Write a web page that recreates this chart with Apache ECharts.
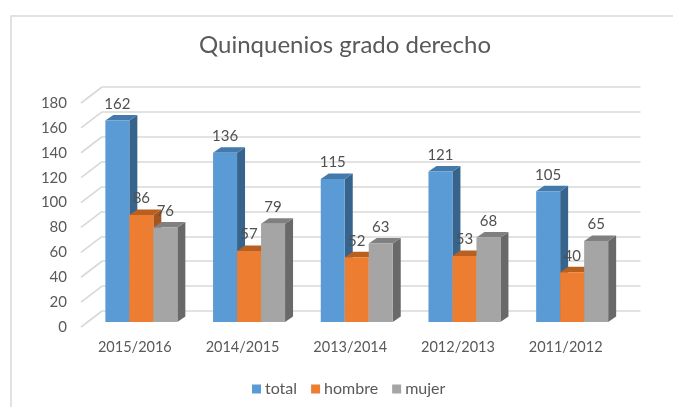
<!DOCTYPE html>
<html><head><meta charset="utf-8">
<style>html,body{margin:0;padding:0;background:#fff}#c{width:673px;height:407px}</style>
<script src="https://cdn.jsdelivr.net/npm/echarts@6/dist/echarts.min.js"></script>
</head><body><div id="c"></div>
<script>
const categories = ['2015/2016','2014/2015','2013/2014','2012/2013','2011/2012'];
const total = [162,136,115,121,105];
const hombre = [86,57,52,53,40];
const mujer = [76,79,63,68,65];
const seriesNames = ['total','hombre','mujer'];
const FONT = 'Lato, "Open Sans", sans-serif';
const chart = echarts.init(document.getElementById('c'), null, {renderer:'canvas'});

const faces = [
  {front:'#5b9bd5', top:'#437aab', side:'#37648c'},
  {front:'#ed7d31', top:'#b8601f', side:'#a5561f'},
  {front:'#a5a5a5', top:'#808080', side:'#696969'}
];
const BAR_W = 24, DX = 8, DY = 5.5, OFF_X = 6.5, OFF_Y = -5;

function barSeries(name, values, idx){
  return {
    type:'custom', name, xAxisIndex:1, yAxisIndex:1, coordinateSystem:'cartesian2d',
    itemStyle:{color:faces[idx].front},
    data: values.map((v,i)=>[i,v]),
    encode:{x:0,y:1},
    renderItem(params, api){
      const p = api.coord([api.value(0), api.value(1)]);
      const b = api.coord([api.value(0), 0]);
      const x = p[0] + OFF_X + (idx-1.5)*BAR_W;
      const y = p[1] + OFF_Y, y0 = b[1] + OFF_Y;
      const f = faces[idx];
      return {type:'group', children:[
        {type:'polygon', z2:idx*3+1, shape:{points:[[x+BAR_W,y],[x+BAR_W+DX,y-DY],[x+BAR_W+DX,y0-DY],[x+BAR_W,y0]]}, style:{fill:f.side}},
        {type:'polygon', z2:idx*3+2, shape:{points:[[x,y],[x+DX,y-DY],[x+BAR_W+DX,y-DY],[x+BAR_W,y]]}, style:{fill:f.top}},
        {type:'rect', z2:idx*3+3, shape:{x,y,width:BAR_W,height:y0-y}, style:{fill:f.front}},
        {type:'text', z2:50, style:{text:String(api.value(1)), x:x+BAR_W/2, y:y-16.5, align:'center', verticalAlign:'middle', fill:'#505050', font:'15px '+FONT}}
      ]};
    }
  };
}

const yTicks = [0,20,40,60,80,100,120,140,160,180];
const option = {
  animation:false,
  backgroundColor:'#fff',
  title:{text:'Quinquenios grado derecho', left:199, top:33, textStyle:{color:'#595959', fontSize:24, fontWeight:'normal', fontFamily:FONT}, padding:0},
  legend:{data:seriesNames, left:252, top:381, itemWidth:9, itemHeight:9, itemGap:14, icon:'rect', padding:0,
    textStyle:{color:'#595959', fontSize:16, fontFamily:FONT, padding:[0,0,0,-1]}},
  grid:[
    {left:102, right:32.5, top:87, height:224},
    {left:81, width:538.5, top:103, height:224}
  ],
  xAxis:[
    {gridIndex:0, type:'category', data:categories, axisLine:{show:false}, axisTick:{show:false}, axisLabel:{show:false}},
    {gridIndex:1, type:'category', data:categories, axisLine:{show:false}, axisTick:{show:false},
     axisLabel:{color:'#595959', fontSize:14.5, fontFamily:FONT, margin:13}}
  ],
  yAxis:[
    {gridIndex:0, type:'value', min:0, max:180, interval:20, axisLine:{show:false}, axisTick:{show:false}, axisLabel:{show:false},
     splitLine:{lineStyle:{color:'#d9d9d9', width:1.7}}},
    {gridIndex:1, type:'value', min:0, max:180, interval:20, axisLine:{show:false}, axisTick:{show:false}, splitLine:{show:false},
     axisLabel:{color:'#595959', fontSize:15, fontFamily:FONT, margin:14, formatter:v=>String(v)}}
  ],
  series:[
    {type:'custom', name:'wall', xAxisIndex:1, yAxisIndex:1, silent:true, z:1,
     data:yTicks.map(v=>[0,v]), encode:{x:0,y:1},
     renderItem(params, api){
       const p = api.coord([0, api.value(1)]);
       const x0 = params.coordSys.x;
       return {type:'line', shape:{x1:x0, y1:p[1], x2:x0+21, y2:p[1]-16}, style:{stroke:'#d9d9d9', lineWidth:1.7}};
     }},
    barSeries(seriesNames[0], total, 0),
    barSeries(seriesNames[1], hombre, 1),
    barSeries(seriesNames[2], mujer, 2)
  ],
  graphic:[
    {type:'polyline', silent:true, z:0, shape:{points:[[11,407],[11,16],[673,16]]}, style:{fill:'none', stroke:'#d9d9d9', lineWidth:1.5}}
  ]
};
chart.setOption(option);
</script></body></html>
